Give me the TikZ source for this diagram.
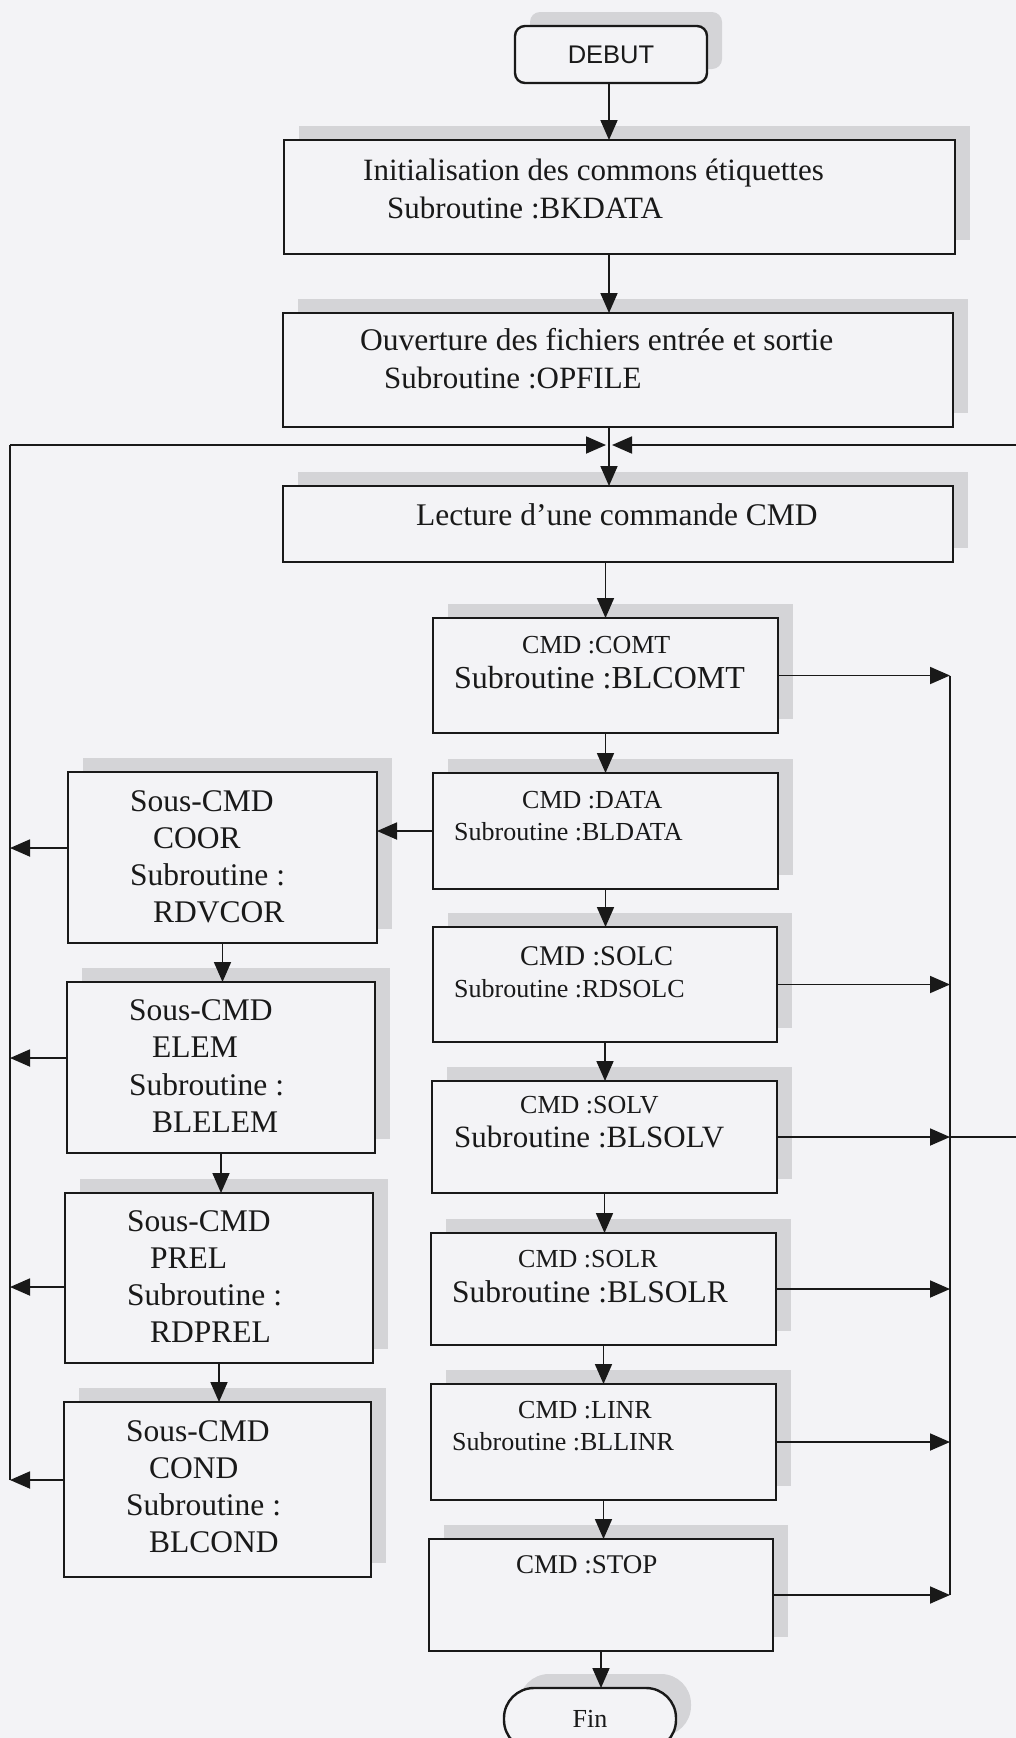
\documentclass[tikz,border=0pt]{standalone}
\usepackage{fontspec}
\setmainfont{Liberation Serif}
\newfontfamily\sansf{Liberation Sans}
\usetikzlibrary{arrows.meta,shadows}
\definecolor{paper}{RGB}{243,243,246}
\definecolor{shade}{RGB}{212,212,215}
\definecolor{ink}{RGB}{25,25,25}
\tikzset{
  blk/.style={draw=ink, line width=2.4pt, fill=paper, inner sep=0pt, outer sep=0pt,
    general shadow={fill=shade, shadow xshift=15pt, shadow yshift=14pt}},
  bx/.style 2 args={minimum width=#1pt, minimum height=#2pt},
  wire/.style={draw=ink, line width=1.8pt},
  arr/.style={wire, -{Triangle[length=20pt,width=17pt]}},
  lbl/.style={anchor=base west, inner sep=0pt, text=ink},
  fs/.style={font=\fontsize{#1}{#1}\selectfont},
}
\begin{document}
\begin{tikzpicture}[x=1pt,y=-1pt]
  \useasboundingbox[fill=paper] (0,0) rectangle (1016,1738);

  % --- main column, top part
  \node[blk, bx={192}{57}, rounded corners=10pt, font=\sansf\fontsize{25.5}{26}\selectfont, text=ink] (debut) at (611,54.5) {DEBUT};
  \node[blk, bx={671}{114}] (init) at (619.5,197) {};
  \node[blk, bx={670}{114}] (ouv) at (618,370) {};
  \node[blk, bx={670}{76}] (lect) at (618,524) {};

  % --- command boxes
  \node[blk, bx={345}{115}] (comt) at (605.5,675.5) {};
  \node[blk, bx={345}{116}] (data) at (605.5,831) {};
  \node[blk, bx={344}{115}] (solc) at (605,984.5) {};
  \node[blk, bx={345}{112}] (solv) at (604.5,1137) {};
  \node[blk, bx={345}{112}] (solr) at (603.5,1289) {};
  \node[blk, bx={345}{116}] (linr) at (603.5,1442) {};
  \node[blk, bx={344}{112}] (stop) at (601,1595) {};
  \node[blk, bx={172}{62}, rounded corners=30pt, font=\fontsize{26}{26}\selectfont, text=ink] (fin) at (590,1719) {Fin};

  % --- sub-command boxes
  \node[blk, bx={309}{171}] (coor) at (222.5,857.5) {};
  \node[blk, bx={308}{171}] (elem) at (221,1067.5) {};
  \node[blk, bx={308}{170}] (prel) at (219,1278) {};
  \node[blk, bx={307}{175}] (cond) at (217.5,1489.5) {};

  % --- texts
  \node[lbl, fs=31] (t-init-a) at (363,180) {Initialisation des commons étiquettes};
  \node[lbl, fs=31] (t-init-b) at (387,218) {Subroutine :BKDATA};
  \node[lbl, fs=31.5] (t-ouv-a) at (360,350) {Ouverture des fichiers entrée et sortie};
  \node[lbl, fs=31] (t-ouv-b) at (384,388) {Subroutine :OPFILE};
  \node[lbl, fs=31.5] (t-lect) at (416,525) {Lecture d’une commande CMD};

  \node[lbl, fs=26] (t-comt-a) at (522,653) {CMD :COMT};
  \node[lbl, fs=32] (t-comt-b) at (454,688) {Subroutine :BLCOMT};
  \node[lbl, fs=26] (t-data-a) at (522,808) {CMD :DATA};
  \node[lbl, fs=26] (t-data-b) at (454,840) {Subroutine :BLDATA};
  \node[lbl, fs=28.5] (t-solc-a) at (520,965) {CMD :SOLC};
  \node[lbl, fs=26] (t-solc-b) at (454,997) {Subroutine :RDSOLC};
  \node[lbl, fs=26] (t-solv-a) at (520,1113) {CMD :SOLV};
  \node[lbl, fs=31] (t-solv-b) at (454,1147) {Subroutine :BLSOLV};
  \node[lbl, fs=26] (t-solr-a) at (518,1267) {CMD :SOLR};
  \node[lbl, fs=31.5] (t-solr-b) at (452,1302) {Subroutine :BLSOLR};
  \node[lbl, fs=26] (t-linr-a) at (518,1418) {CMD :LINR};
  \node[lbl, fs=26] (t-linr-b) at (452,1450) {Subroutine :BLLINR};
  \node[lbl, fs=27] (t-stop) at (516,1573) {CMD :STOP};

  \node[lbl, fs=31.5] (t-coor-a) at (130,811) {Sous-CMD};
  \node[lbl, fs=31.5] (t-coor-b) at (153,848) {COOR};
  \node[lbl, fs=31.5] (t-coor-c) at (130,885) {Subroutine :};
  \node[lbl, fs=31.5] (t-coor-d) at (153,922) {RDVCOR};
  \node[lbl, fs=31.5] (t-elem-a) at (129,1020) {Sous-CMD};
  \node[lbl, fs=31.5] (t-elem-b) at (152,1057) {ELEM};
  \node[lbl, fs=31.5] (t-elem-c) at (129,1095) {Subroutine :};
  \node[lbl, fs=31.5] (t-elem-d) at (152,1132) {BLELEM};
  \node[lbl, fs=31.5] (t-prel-a) at (127,1231) {Sous-CMD};
  \node[lbl, fs=31.5] (t-prel-b) at (150,1268) {PREL};
  \node[lbl, fs=31.5] (t-prel-c) at (127,1305) {Subroutine :};
  \node[lbl, fs=31.5] (t-prel-d) at (150,1342) {RDPREL};
  \node[lbl, fs=31.5] (t-cond-a) at (126,1441) {Sous-CMD};
  \node[lbl, fs=31.5] (t-cond-b) at (149,1478) {COND};
  \node[lbl, fs=31.5] (t-cond-c) at (126,1515) {Subroutine :};
  \node[lbl, fs=31.5] (t-cond-d) at (149,1552) {BLCOND};

  % --- junction points of the loop
  \coordinate (merge) at (609,445);
  \coordinate (lbus) at (10,445);
  \coordinate (rin) at (1030,445);
  \coordinate (rbus) at (950,678);
  \coordinate (redge) at (1030,1137);

  % --- sequence along the spine
  \draw[arr] (debut.south -| merge) -- (init.north -| merge);
  \draw[arr] (init.south -| merge) -- (ouv.north -| merge);
  \draw[wire] (ouv.south -| merge) -- (merge);
  \draw[arr] (merge) -- (lect.north -| merge);
  \draw[arr] (lect.south -| comt.north) -- (comt.north);
  \draw[arr] (comt.south) -- (comt.south |- data.north);
  \draw[arr] (data.south) -- (data.south |- solc.north);
  \draw[arr] (solc.south) -- (solc.south |- solv.north);
  \draw[arr] (solv.south) -- (solv.south |- solr.north);
  \draw[arr] (solr.south) -- (solr.south |- linr.north);
  \draw[arr] (linr.south) -- (linr.south |- stop.north);
  \draw[arr] (stop.south) -- (stop.south |- fin.north);

  % --- DATA to its sub-commands
  \draw[arr] (data.west) -- (data.west -| coor.east);
  \draw[arr] (coor.south) -- (coor.south |- elem.north);
  \draw[arr] (elem.south) -- (elem.south |- prel.north);
  \draw[arr] (prel.south) -- (prel.south |- cond.north);

  % --- left return bus
  \coordinate (coor-o) at ([yshift=9.5pt]coor.west);
  \coordinate (elem-o) at ([yshift=9.5pt]elem.west);
  \coordinate (prel-o) at ([yshift=-9pt]prel.west);
  \coordinate (cond-o) at ([yshift=9.5pt]cond.west);
  \draw[wire] (cond-o -| lbus) -- (lbus);
  \draw[arr, shorten >=3pt] (lbus) -- (merge);
  \draw[arr] (coor-o) -- (coor-o -| lbus);
  \draw[arr] (elem-o) -- (elem-o -| lbus);
  \draw[arr] (prel-o) -- (prel-o -| lbus);
  \draw[arr] (cond-o) -- (cond-o -| lbus);

  % --- right return bus
  \draw[arr, shorten >=3pt] (rin) -- (merge);
  \draw[wire] (comt.east -| rbus) -- (stop.east -| rbus);
  \draw[wire] (solv.east -| rbus) -- (redge);
  \draw[arr] (comt.east) -- (comt.east -| rbus);
  \draw[arr] (solc.east) -- (solc.east -| rbus);
  \draw[arr] (solv.east) -- (solv.east -| rbus);
  \draw[arr] (solr.east) -- (solr.east -| rbus);
  \draw[arr] (linr.east) -- (linr.east -| rbus);
  \draw[arr] (stop.east) -- (stop.east -| rbus);
\end{tikzpicture}
\end{document}
